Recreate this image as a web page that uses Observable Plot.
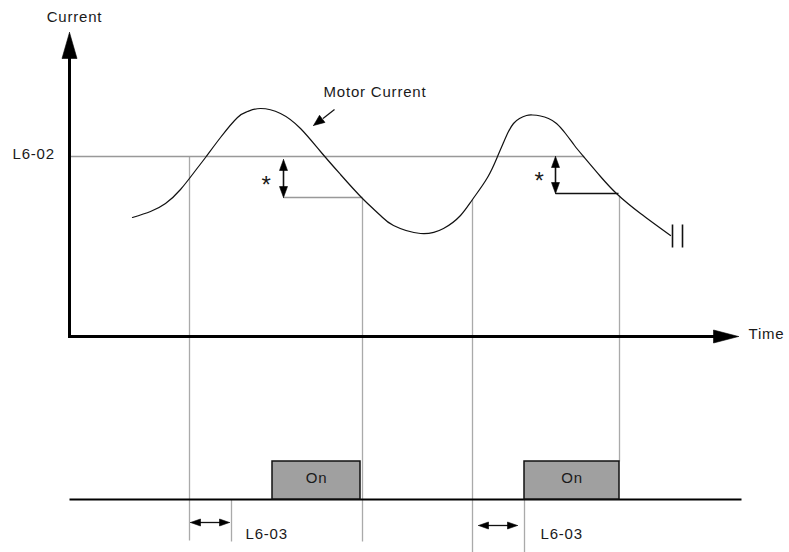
<!DOCTYPE html>
<html><head><meta charset="utf-8">
<script src="https://cdn.jsdelivr.net/npm/d3@7"></script>
<script src="https://cdn.jsdelivr.net/npm/@observablehq/plot@0.6"></script>
<style>body{margin:0;background:#fff}</style>
</head><body><div id="chart"></div>
<script>
// Diagram units: time = px from left, level = px from top
const curveTime  = [132,150,165,180,195,205,220,237,247,260,280,300,320,340,362,380,393,420,443,460,472,487,497,503,508,513,519,526,532,540,548,556,565,574,583,600,617,640,670];
const curveLevel = [217,211,203,189,170,157,137,117,111,108,113,128,151,174,198,215,225,233,228,215,199,177,156,142,131,123,118,115,114.5,115.5,118,123,133,145,156,176,194,213,235];

const axisOrigin = {time: 69, level: 336};
const axisTimeEnd = 738;
const axisLevelEnd = 32;

const thresholdLevel = 156;          // L6-02
const thresholdEnd = 583;

const guideTime   = [189, 231, 362, 472, 524, 619];
const guideTop    = [156, 499, 198, 199, 499, 195];
const guideBottom = [540, 541, 541, 552, 552, 461];

const hystTime   = [283, 555];
const hystTop    = [159, 156];
const hystBottom = [197, 193];
const hystEnd    = [362, 618];
const hystColor  = ["#999", "#111"];
const starTime   = [266, 539];
const starLevel  = [179, 175];

const signalLevel = 499;
const signalStart = 69, signalEnd = 741;
const onStart = [272, 524];
const onEnd   = [360, 619];
const onTop   = 461;

const delayStart = [190, 478];
const delayEnd   = [229, 517];
const delayLevel = [522, 525];
const delayLabelTime = [245, 540];
const delayLabelLevel = 534;

const pointerFrom = [334, 109], pointerTo = [313, 125];
const breakTime = [672, 682], breakTop = 224, breakBottom = 247;

const startLabels = [
  {t: 12, l: 154, text: "L6-02"},
  {t: 323, l: 92, text: "Motor Current"},
  {t: 748, l: 334, text: "Time"}
];
const middleLabels = [
  {t: 74, l: 17, text: "Current"}
];

// ---- build mark data ----
const curve = curveTime.map((t, i) => ({t, l: curveLevel[i]}));
const guides = guideTime.map((t, i) => ({t, top: guideTop[i], bottom: guideBottom[i]}));
const heads = [];
function head(id, tip, from, len, hw) {
  const dx = tip[0] - from[0], dy = tip[1] - from[1];
  const d = Math.hypot(dx, dy), ux = dx / d, uy = dy / d;
  const bx = tip[0] - ux * len, by = tip[1] - uy * len;
  heads.push({id, t: tip[0], l: tip[1]},
             {id, t: bx - uy * hw, l: by + ux * hw},
             {id, t: bx + uy * hw, l: by - ux * hw},
             {id, t: tip[0], l: tip[1]});
}
head("ya", [axisOrigin.time, axisLevelEnd], [axisOrigin.time, axisOrigin.level], 26, 7.5);
head("xa", [axisTimeEnd, axisOrigin.level], [axisOrigin.time, axisOrigin.level], 25, 6.5);
head("ptr", pointerTo, pointerFrom, 11, 4.5);
hystTime.forEach((t, i) => {
  head("hu" + i, [t, hystTop[i]], [t, hystBottom[i]], 11, 4);
  head("hd" + i, [t, hystBottom[i]], [t, hystTop[i]], 11, 4);
});
delayStart.forEach((s, i) => {
  head("dl" + i, [s, delayLevel[i]], [delayEnd[i], delayLevel[i]], 10, 3.5);
  head("dr" + i, [delayEnd[i], delayLevel[i]], [s, delayLevel[i]], 10, 3.5);
});

const font = "'Liberation Sans', Arial, Helvetica, sans-serif";
const ink = "#1a1a1a";

const chart = Plot.plot({
  width: 789, height: 552,
  margin: 0,
  x: {domain: [0, 789], range: [0, 789], axis: null},
  y: {domain: [0, 552], range: [0, 552], axis: null},
  style: {fontFamily: font, background: "#fff", letterSpacing: "0.8px"},
  marks: [
    // guide lines
    Plot.link(guides, {x1: "t", x2: "t", y1: "top", y2: "bottom", stroke: "#aaa", strokeWidth: 1.3}),
    Plot.link([0], {x1: axisOrigin.time, x2: thresholdEnd, y1: thresholdLevel, y2: thresholdLevel, stroke: "#999", strokeWidth: 1.3}),
    // hysteresis
    Plot.link(hystTime, {x1: d => d, x2: (d, i) => hystEnd[i], y1: (d, i) => hystBottom[i], y2: (d, i) => hystBottom[i], stroke: (d, i) => hystColor[i], strokeWidth: 1.3}),
    Plot.link(hystTime, {x1: d => d, x2: d => d, y1: (d, i) => hystTop[i] + 6, y2: (d, i) => hystBottom[i] - 6, stroke: "#111", strokeWidth: 1.6}),
    Plot.text(starTime, {x: d => d, y: (d, i) => starLevel[i], text: () => "*", fontSize: 24, fill: ink, textAnchor: "middle", dy: 6}),
    // curve
    Plot.line(curve, {x: "t", y: "l", curve: "natural", stroke: "#111", strokeWidth: 1.2}),
    // break marks
    Plot.link(breakTime, {x1: d => d, x2: d => d, y1: breakTop, y2: breakBottom, stroke: "#111", strokeWidth: 1.6}),
    // pointer
    Plot.link([0], {x1: pointerFrom[0], y1: pointerFrom[1], x2: (pointerFrom[0] + pointerTo[0]) / 2 - 1, y2: (pointerFrom[1] + pointerTo[1]) / 2 + 1, stroke: "#111", strokeWidth: 1.2}),
    // axes
    Plot.link([0], {x1: axisOrigin.time, x2: axisOrigin.time, y1: axisOrigin.level + 1.5, y2: axisLevelEnd + 20, stroke: "#000", strokeWidth: 3}),
    Plot.link([0], {x1: axisOrigin.time - 1.5, x2: axisTimeEnd - 20, y1: axisOrigin.level, y2: axisOrigin.level, stroke: "#000", strokeWidth: 3}),
    // signal
    Plot.link([0], {x1: signalStart, x2: signalEnd, y1: signalLevel, y2: signalLevel, stroke: "#000", strokeWidth: 2.2}),
    Plot.rect(onStart, {x1: d => d, x2: (d, i) => onEnd[i], y1: onTop, y2: signalLevel, fill: "#a0a0a0", stroke: "#111", strokeWidth: 1.5}),
    Plot.text(onStart, {x: (d, i) => (d + onEnd[i]) / 2, y: (onTop + signalLevel) / 2 - 2, text: () => "On", fontSize: 15, fill: ink}),
    // delay arrows
    Plot.link(delayStart, {x1: d => d + 6, x2: (d, i) => delayEnd[i] - 6, y1: (d, i) => delayLevel[i], y2: (d, i) => delayLevel[i], stroke: "#111", strokeWidth: 1.3}),
    Plot.text(delayLabelTime, {x: d => d, y: delayLabelLevel, text: () => "L6-03", fontSize: 15, fill: ink, textAnchor: "start"}),
    // arrowheads
    Plot.line(heads, {x: "t", y: "l", z: "id", fill: "#000", stroke: "#000", strokeWidth: 0.6}),
    // labels
    Plot.text(startLabels, {x: "t", y: "l", text: "text", textAnchor: "start", fontSize: 15, fill: ink}),
    Plot.text(middleLabels, {x: "t", y: "l", text: "text", textAnchor: "middle", fontSize: 15, fill: ink}),
  ]
});
document.getElementById("chart").append(chart);
</script>
</body></html>
